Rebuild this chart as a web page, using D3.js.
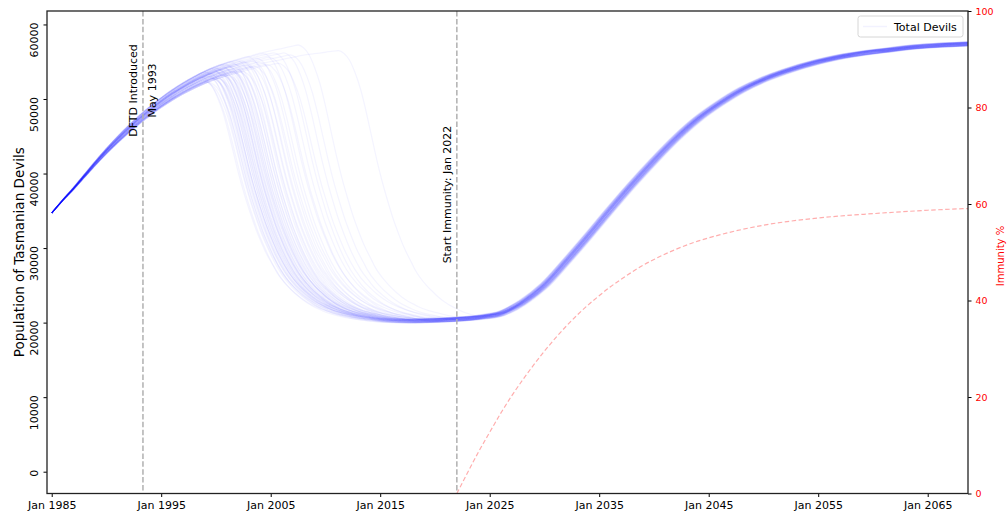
<!DOCTYPE html>
<html>
<head>
<meta charset="utf-8">
<script src="https://cdn.jsdelivr.net/npm/d3@7"></script>
<style>
  html, body { margin: 0; padding: 0; background: #fff; }
  svg { display: block; font-family: "DejaVu Sans", sans-serif; }
</style>
</head>
<body>
<div id="chart"></div>
<script>
// Tasmanian devil simulation runs: growth, DFTD decline, recovery with immunity

// common growth curve before the disease hits
const growthYears = [1985, 1986, 1987, 1988, 1989, 1990, 1991, 1992, 1993, 1994, 1995, 1996, 1997, 1998, 1999,
                     2000, 2001, 2002, 2003, 2004, 2005, 2006, 2007, 2008, 2009, 2010, 2011, 2012, 2013, 2014];
const growthPop = [34700, 36400, 38000, 39700, 41400, 43000, 44500, 45900, 47200, 48400, 49500, 50500, 51400, 52200, 52900,
                   53500, 54000, 54400, 54800, 55200, 55500, 55800, 56100, 56400, 56600, 56800, 57000, 57100, 57200, 57250];

// shape of the crash, fraction of the way from peak down to the floor, by years since onset
const declineT = [0, 0.5, 1, 1.5, 2, 2.5, 3, 3.5, 4, 4.5, 5, 5.5, 6, 7, 8, 9, 10, 11, 12, 14, 16, 19, 24];
const declineFrac = [1, 0.99, 0.965, 0.92, 0.86, 0.78, 0.69, 0.6, 0.52, 0.45, 0.385, 0.33, 0.28, 0.2, 0.145, 0.105,
                     0.075, 0.054, 0.039, 0.02, 0.01, 0.004, 0];
const floorPop = 19950;

// floor and recovery after immunity starts
const baseYears = [2005, 2010, 2014, 2018, 2020, 2022, 2024, 2026, 2028, 2030, 2032, 2034, 2036, 2038, 2040,
                   2042, 2044, 2046, 2048, 2050, 2052, 2055, 2058, 2061, 2064, 2066, 2069];
const basePop = [20100, 20100, 20150, 20200, 20300, 20450, 20700, 21200, 22700, 25000, 28200, 31600, 35100, 38500, 41700,
                 44700, 47300, 49400, 51200, 52600, 53700, 55000, 55900, 56500, 57000, 57200, 57400];

// per run: year the crash starts
const runOnset = [1998.6, 1998.8, 1998.95, 1999.05, 1999.15, 1999.25, 1999.3, 1999.4, 1999.45, 1999.55,
                  1999.6, 1999.65, 1999.7, 1999.8, 1999.85, 1999.9, 2000.0, 2000.05, 2000.1, 2000.2,
                  2000.25, 2000.3, 2000.4, 2000.45, 2000.5, 2000.6, 2000.65, 2000.7, 2000.8, 2000.85,
                  2000.9, 2001.0, 2001.1, 2001.15, 2001.2, 2001.3, 2001.4, 2001.5, 2001.6, 2001.7,
                  2001.8, 2001.9, 2002.0, 2002.2, 2002.3, 2002.4, 2002.6, 2002.7, 2002.9, 2003.1,
                  2003.3, 2003.5, 2003.7, 2004.0, 2004.3, 2004.6, 2004.9, 2005.3, 2005.7, 2006.2,
                  2006.8, 2007.5, 2011.2];
// spread between runs, used cyclically: growth (%), recovery shift (years), floor offset
const runGrowth = [2.0, -1.4, 4.0, -3.5, 0.5, 2.9, -4.4, 1.5, -0.6, 4.6, -2.4, 1.0, -3.1];
const runShift = [0.2, -0.3, 0.35, -0.1, 0.05, -0.35, 0.25, -0.15, 0.1, -0.2, 0.0];
const runFloor = [100, -180, 250, -60, 0, 170, -250];

// immunity % (right axis)
const immYears = [2022, 2023, 2024, 2025, 2026, 2027, 2028, 2029, 2030, 2031, 2032, 2033, 2034, 2035, 2036,
                  2037, 2038, 2039, 2040, 2042, 2044, 2046, 2048, 2050, 2055, 2060, 2065, 2069];
const immPct = [0, 4.4, 8.7, 12.7, 16.6, 20.2, 23.5, 26.6, 29.5, 32.2, 34.7, 37.0, 39.1, 41.0, 42.8,
                44.4, 45.9, 47.3, 48.5, 50.6, 52.3, 53.6, 54.7, 55.6, 57.1, 58.0, 58.7, 59.1];

const tickYears = [1985, 1995, 2005, 2015, 2025, 2035, 2045, 2055, 2065];
const leftTicks = [0, 10000, 20000, 30000, 40000, 50000, 60000];
const rightTicks = [0, 20, 40, 60, 80, 100];

const W = 1008, H = 514;
const m = { left: 47, right: 968, top: 11, bottom: 493.5 };

// decimal year -> UTC date
function yearDate(yr) {
    const y0 = Math.floor(yr);
    const a = Date.UTC(y0, 0, 1), b = Date.UTC(y0 + 1, 0, 1);
    return new Date(a + (yr - y0) * (b - a));
}

const x = d3.scaleUtc()
    .domain([yearDate(1984.571), yearDate(2068.68)])
    .range([m.left, m.right]);
const y = d3.scaleLinear().domain([-2925, 61805]).range([m.bottom, m.top]);
const yR = d3.scaleLinear().domain([0, 100]).range([m.bottom, m.top]);

const growthS = d3.scaleLinear().domain(growthYears).range(growthPop).clamp(true);
const fracS = d3.scaleLinear().domain(declineT).range(declineFrac).clamp(true);
const baseS = d3.scaleLinear().domain(baseYears).range(basePop).clamp(true);

// build one run from the read curves
function buildRun(i) {
    const onset = runOnset[i];
    const g = runGrowth[i % runGrowth.length] / 100;
    const shift = runShift[i % runShift.length];
    const off = runFloor[i % runFloor.length];
    const grow = yr => growthPop[0] + (growthS(yr) - growthPop[0]) * (1 + g);
    const peak = grow(onset);
    let yrs = growthYears.filter(v => v < onset)
        .concat(declineT.map(t => onset + t))
        .concat(baseYears.map(v => v + shift).filter(v => v > onset + 0.2));
    yrs = Array.from(new Set(yrs.map(v => Math.round(v * 100) / 100))).sort((a, b) => a - b);
    return yrs.map(yr => {
        if (yr < onset) return [yr, grow(yr)];
        const dec = floorPop + off + (peak - floorPop - off) * fracS(yr - onset);
        return [yr, Math.max(dec, baseS(yr - shift) + off)];
    });
}

const svg = d3.select('#chart').append('svg')
    .attr('width', W)
    .attr('height', H);

svg.append('defs').append('clipPath').attr('id', 'plot-clip')
    .append('rect')
    .attr('x', m.left).attr('y', m.top)
    .attr('width', m.right - m.left).attr('height', m.bottom - m.top);

const plot = svg.append('g').attr('clip-path', 'url(#plot-clip)');

const line = d3.line()
    .x(d => x(yearDate(d[0])))
    .y(d => y(d[1]))
    .curve(d3.curveMonotoneX);

// simulation runs
plot.selectAll('path.run')
    .data(runOnset.map((d, i) => buildRun(i)))
    .enter()
    .append('path')
    .attr('class', 'run')
    .attr('d', line)
    .attr('fill', 'none')
    .attr('stroke', '#0000ff')
    .attr('stroke-width', 1.3)
    .attr('stroke-opacity', 0.045);

// immunity curve
const immLine = d3.line()
    .x((d, i) => x(yearDate(immYears[i])))
    .y(d => yR(d))
    .curve(d3.curveMonotoneX);

plot.append('path')
    .attr('d', immLine(immPct))
    .attr('fill', 'none')
    .attr('stroke', '#ff0000')
    .attr('stroke-opacity', 0.32)
    .attr('stroke-width', 1.2)
    .attr('stroke-dasharray', '4.5,2.5');

// event markers
const events = [
    { yr: 1993 + 4 / 12, lines: ['DFTD Introduced', 'May 1993'], cy: 90.5, bx: [136.5, 156] },
    { yr: 2022, lines: ['Start Immunity: Jan 2022'], cy: 194.5, bx: [451] }
];

events.forEach(ev => {
    const xp = x(yearDate(ev.yr));
    plot.append('line')
        .attr('x1', xp).attr('x2', xp)
        .attr('y1', m.top).attr('y2', m.bottom)
        .attr('stroke', '#b0b0b0')
        .attr('stroke-width', 1.5)
        .attr('stroke-dasharray', '5.5,2.4');
    ev.lines.forEach((t, k) => {
        svg.append('text')
            .attr('transform', `translate(${ev.bx[k]},${ev.cy}) rotate(-90)`)
            .attr('text-anchor', 'middle')
            .attr('font-size', '11px')
            .attr('fill', '#000')
            .text(t);
    });
});

// axes
const xAxis = svg.append('g')
    .attr('transform', `translate(0,${m.bottom})`)
    .call(d3.axisBottom(x)
        .tickValues(tickYears.map(v => new Date(Date.UTC(v, 0, 1))))
        .tickFormat(d3.utcFormat('Jan %Y'))
        .tickSize(3.5)
        .tickPadding(4.5));
xAxis.select('.domain').remove();
xAxis.selectAll('text').attr('font-size', '11px').attr('font-family', '"DejaVu Sans", sans-serif').attr('fill', '#000');

const yAxis = svg.append('g')
    .attr('transform', `translate(${m.left},0)`)
    .call(d3.axisLeft(y)
        .tickValues(leftTicks)
        .tickFormat(d3.format('d'))
        .tickSize(3.5));
yAxis.select('.domain').remove();
yAxis.selectAll('.tick text')
    .attr('x', null).attr('dy', null)
    .attr('text-anchor', 'end')
    .attr('transform', 'translate(-9,-2.5) rotate(-90)')
    .attr('font-size', '11px')
    .attr('font-family', '"DejaVu Sans", sans-serif')
    .attr('fill', '#000');

const yAxisR = svg.append('g')
    .attr('transform', `translate(${m.right},0)`)
    .call(d3.axisRight(yR)
        .tickValues(rightTicks)
        .tickFormat(d3.format('d'))
        .tickSize(3.5)
        .tickPadding(4));
yAxisR.select('.domain').remove();
yAxisR.selectAll('.tick text')
    .attr('font-size', '9.5px')
    .attr('font-family', '"DejaVu Sans", sans-serif')
    .attr('fill', '#ff0000');

// frame
svg.append('rect')
    .attr('x', m.left).attr('y', m.top)
    .attr('width', m.right - m.left).attr('height', m.bottom - m.top)
    .attr('fill', 'none')
    .attr('stroke', '#222')
    .attr('stroke-width', 1.3);

// axis titles
svg.append('text')
    .attr('transform', `translate(24,${(m.top + m.bottom) / 2}) rotate(-90)`)
    .attr('text-anchor', 'middle')
    .attr('font-size', '13.5px')
    .attr('fill', '#000')
    .text('Population of Tasmanian Devils');

svg.append('text')
    .attr('transform', `translate(1004,256) rotate(-90)`)
    .attr('text-anchor', 'middle')
    .attr('font-size', '10px')
    .attr('fill', '#ff0000')
    .text('Immunity %');

// legend
const leg = svg.append('g');
leg.append('rect')
    .attr('x', 858).attr('y', 16)
    .attr('width', 105).attr('height', 21)
    .attr('rx', 2.5)
    .attr('fill', '#fff').attr('fill-opacity', 0.8)
    .attr('stroke', '#d6d6d6').attr('stroke-width', 1);
leg.append('line')
    .attr('x1', 863).attr('x2', 887)
    .attr('y1', 26.5).attr('y2', 26.5)
    .attr('stroke', '#0000ff').attr('stroke-opacity', 0.05)
    .attr('stroke-width', 1.5);
leg.append('text')
    .attr('x', 894).attr('y', 30.5)
    .attr('font-size', '11px')
    .attr('fill', '#000')
    .text('Total Devils');
</script>
</body>
</html>
